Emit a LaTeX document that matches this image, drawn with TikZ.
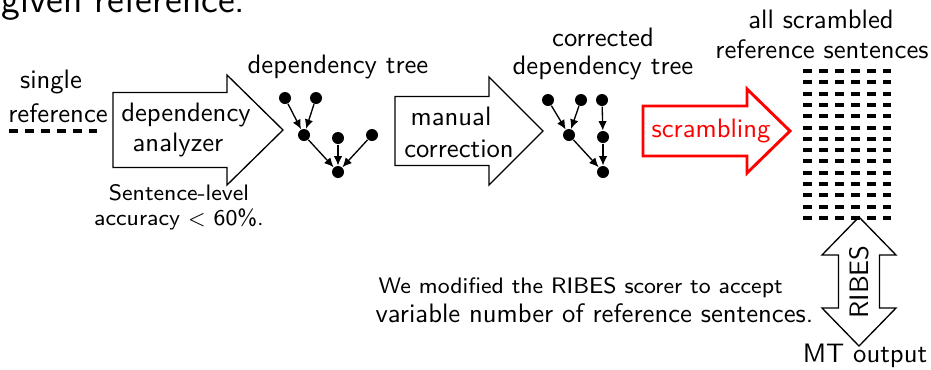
\documentclass[tikz,border=0pt]{standalone}
\usepackage{amsmath}
\usepackage{tikz}
\usetikzlibrary{arrows.meta}
\renewcommand{\familydefault}{\sfdefault}
\tikzset{
  txt/.style={inner sep=0,anchor=base,font=\fontsize{10}{12}\selectfont},
  small txt/.style={inner sep=0,anchor=base,font=\fontsize{8.4}{10}\selectfont},
  word/.style={fill,circle,inner sep=0,minimum size=4.5pt},
  dep/.style={-{Latex[length=3.5pt,width=3.2pt]},line width=0.5pt},
  process/.style={draw=black,line width=0.5pt},
  sentence/.style={line width=1.5pt,dash pattern=on 3.375pt off 2.625pt}
}
\def\fatarrow#1#2#3#4#5#6{(#1,#4-#5) -- (#2,#4-#5) -- (#2,#4-#6) -- (#3,#4) -- (#2,#4+#6) -- (#2,#4+#5) -- (#1,#4+#5) -- cycle}

\begin{document}
\begin{tikzpicture}[x=0.375pt,y=-0.375pt]
\useasboundingbox (0,0) rectangle (931,369);
% タイトルの残り
\node[anchor=base west,inner sep=0,font=\fontsize{14.4}{17}\selectfont] (title) at (1,12) {given reference.};
% 入力文
\node[txt] (single) at (51,88) {single};
\node[txt] (ref) at (58,122) {reference};
\draw[sentence] (9,131) -- (97,131);
% 矢印の描画
\draw[process] \fatarrow{113}{227}{283}{130}{37.5}{55};
\draw[process] \fatarrow{395}{489}{543}{131}{34.5}{54};
\draw[red,line width=1.1pt] \fatarrow{643}{747}{790}{131}{25}{42};
\draw[process] (859,217) -- (896,255) -- (879.5,255) -- (879.5,308) -- (896,308)
  -- (859,346) -- (822,308) -- (838.5,308) -- (838.5,255) -- (822,255) -- cycle;
% 矢印のラベル
\node[txt] (ana1) at (186,121) {dependency};
\node[txt] (ana2) at (178,151) {analyzer};
\node[small txt] (acc1) at (179,200) {Sentence-level};
\node[small txt] (acc2) at (179,225) {accuracy $<$ 60\%.};
\node[txt] (man1) at (451,125) {manual};
\node[txt] (man2) at (459,157) {correction};
\node[txt,text=red] (scr) at (711,137) {scrambling};
\node[txt,anchor=center,rotate=90] (ribes) at (859,282) {RIBES};
% 係り受け木
\node[txt] (tree) at (338,73) {dependency tree};
\node[word] (a1) at (285,98) {};
\node[word] (a2) at (316,98) {};
\node[word] (a3) at (304,135) {};
\node[word] (a4) at (338,138) {};
\node[word] (a5) at (372,135) {};
\node[word] (a6) at (338,172) {};
\draw[dep] (a1) -- (a3);
\draw[dep] (a2) -- (a3);
\draw[dep] (a3) -- (a6);
\draw[dep] (a4) -- (a6);
\draw[dep] (a5) -- (a6);
% 修正後の木
\node[txt] (ctree1) at (603,46) {corrected};
\node[txt] (ctree2) at (603,74) {dependency tree};
\node[word] (b1) at (548,100) {};
\node[word] (b2) at (581,100) {};
\node[word] (b3) at (602,100) {};
\node[word] (b4) at (569,135) {};
\node[word] (b5) at (603,137) {};
\node[word] (b6) at (603,172) {};
\draw[dep] (b1) -- (b4);
\draw[dep] (b2) -- (b4);
\draw[dep] (b4) -- (b6);
\draw[dep] (b3) -- (b5);
\draw[dep] (b5) -- (b6);
% 並べ替えた参照文
\node[txt] (all1) at (821,28) {all scrambled};
\node[txt] (all2) at (822,58) {reference sentences};
\foreach \r in {0,...,13}
  \draw[sentence] (803,71+\r*11.31) -- (891,71+\r*11.31);
% 下の説明
\node[small txt,anchor=base west] (note1) at (378,293) {We modified the RIBES scorer to accept};
\node[txt,anchor=base west] (note2) at (375,322) {variable number of reference sentences.};
\node[txt] (mt) at (865,362) {MT output};
\end{tikzpicture}
\end{document}
